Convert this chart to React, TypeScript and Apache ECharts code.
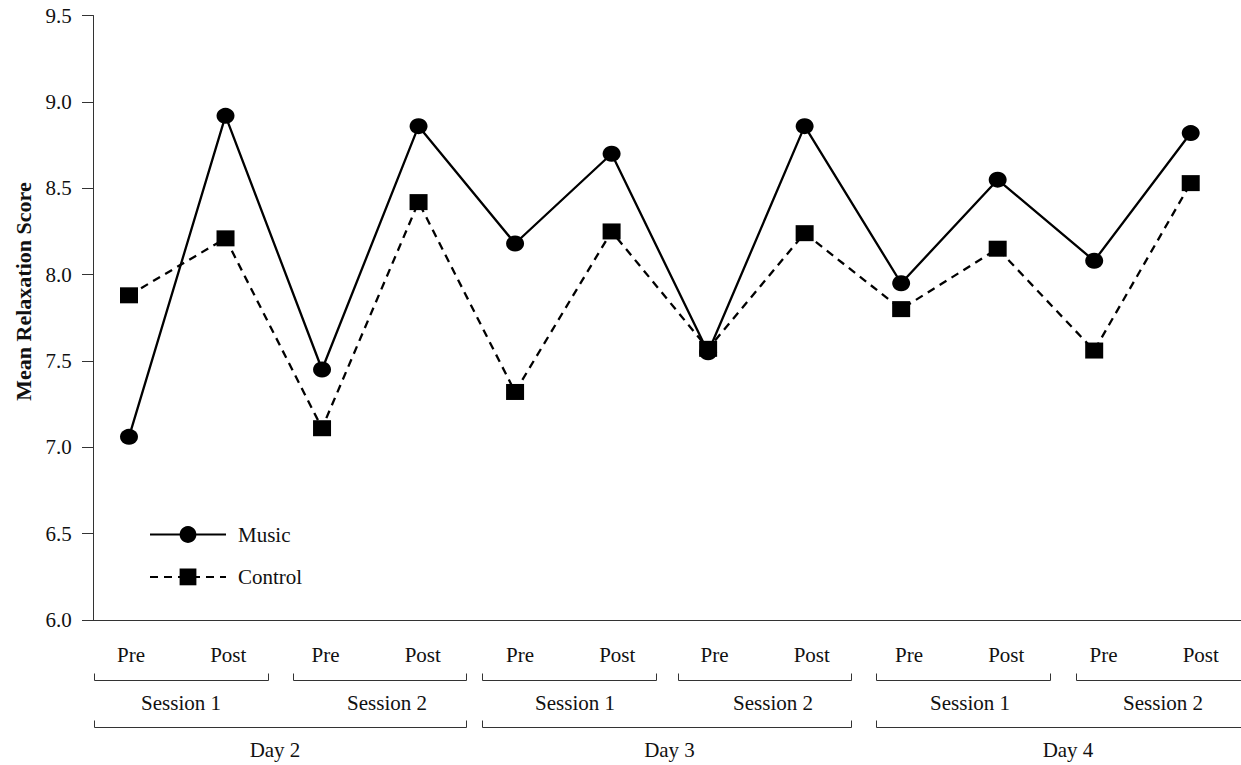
import React, { useEffect, useRef } from "react";
import * as echarts from "echarts";

// Measurement occasions along the x axis
const phases = ["Pre", "Post", "Pre", "Post", "Pre", "Post", "Pre", "Post", "Pre", "Post", "Pre", "Post"];

// Mean relaxation scores per occasion
const music = [7.06, 8.92, 7.45, 8.86, 8.18, 8.7, 7.55, 8.86, 7.95, 8.55, 8.08, 8.82];
const control = [7.88, 8.21, 7.11, 8.42, 7.32, 8.25, 7.57, 8.24, 7.8, 8.15, 7.56, 8.53];

// Grouping labels under the axis
const sessionLabels = ["Session 1", "Session 2", "Session 1", "Session 2", "Session 1", "Session 2"];
const dayLabels = ["Day 2", "Day 3", "Day 4"];

const FONT = "'Liberation Serif', 'DejaVu Serif', serif";
const INK = "#111";
const RULE = "#333";

// Bracket geometry (px) for the session and day groupings
const sessionSpans: [number, number][] = [
  [94.5, 268.5], [293.5, 466.5], [482.5, 656.5], [678.5, 851.5], [876.5, 1050.5], [1076.5, 1265],
];
const sessionCenters = [181, 387, 575, 773, 970, 1163];
const daySpans: [number, number][] = [[94.5, 466.5], [482.5, 851.5], [876.5, 1265]];
const dayCenters = [275, 669.5, 1068];

export default function App() {
  const ref = useRef<HTMLDivElement>(null);

  useEffect(() => {
    if (!ref.current) return;
    const chart = echarts.init(ref.current, null, { renderer: "svg" });

    const bracket = (x1: number, x2: number, yLine: number, yTop: number) => ({
      type: "polyline",
      silent: true,
      shape: { points: [[x1, yTop], [x1, yLine], [x2, yLine], [x2, yTop]] },
      style: { stroke: RULE, lineWidth: 1, fill: null },
    });
    const label = (text: string, x: number, y: number) => ({
      type: "text",
      silent: true,
      x,
      y,
      style: {
        text,
        fill: INK,
        fontFamily: FONT,
        fontSize: 21,
        textAlign: "center",
        textVerticalAlign: "middle",
      },
    });

    const graphics: any[] = [];
    sessionSpans.forEach(([a, b]) => graphics.push(bracket(a, b, 680.5, 673.5)));
    daySpans.forEach(([a, b]) => graphics.push(bracket(a, b, 727.5, 720.5)));
    sessionLabels.forEach((t, i) => graphics.push(label(t, sessionCenters[i], 703)));
    dayLabels.forEach((t, i) => graphics.push(label(t, dayCenters[i], 750)));
    graphics.push({
      type: "text",
      silent: true,
      x: 23,
      y: 291.5,
      rotation: Math.PI / 2,
      style: {
        text: "Mean Relaxation Score",
        fill: INK,
        fontFamily: FONT,
        fontWeight: "bold",
        fontSize: 22,
        textAlign: "center",
        textVerticalAlign: "middle",
      },
    });

    chart.setOption({
      animation: false,
      backgroundColor: "#fff",
      textStyle: { fontFamily: FONT, color: INK },
      grid: { left: 82.4, top: 15.7, width: 1167, height: 604.1, containLabel: false },
      legend: {
        orient: "vertical",
        left: 149,
        top: 524,
        padding: 0,
        itemWidth: 76,
        itemHeight: 21,
        itemGap: 21.4,
        data: ["Music", "Control"],
        textStyle: { fontFamily: FONT, fontSize: 21, color: INK, padding: [0, 0, 0, 7] },
      },
      xAxis: [
        {
          type: "category",
          data: phases,
          boundaryGap: true,
          axisLine: { onZero: false, lineStyle: { color: RULE, width: 1 } },
          axisTick: { alignWithLabel: true, length: 12, lineStyle: { color: RULE } },
          axisLabel: {
            color: INK,
            fontFamily: FONT,
            fontSize: 21,
            margin: 35,
            verticalAlign: "middle",
          },
        },
        {
          // positions the plotted points along the occasions
          type: "value",
          min: -0.4828,
          max: 11.608,
          show: false,
        },
      ],
      yAxis: {
        type: "value",
        min: 6,
        max: 9.5,
        interval: 0.5,
        offset: -11.3,
        splitLine: { show: false },
        axisLine: { show: true, onZero: false, lineStyle: { color: RULE, width: 1 } },
        axisTick: { show: true, length: 11.7, lineStyle: { color: RULE } },
        axisLabel: {
          color: INK,
          fontFamily: FONT,
          fontSize: 21,
          margin: 22,
          formatter: (v: number) => v.toFixed(1),
        },
      },
      series: [
        {
          name: "Control",
          type: "line",
          xAxisIndex: 1,
          data: control.map((v, i) => [i, v]),
          symbol: "rect",
          symbolSize: [18, 16],
          itemStyle: { color: "#000" },
          lineStyle: { color: "#000", width: 2.3, type: [8, 6] },
          z: 2,
        },
        {
          name: "Music",
          type: "line",
          xAxisIndex: 1,
          data: music.map((v, i) => [i, v]),
          symbol: "circle",
          symbolSize: [18, 16],
          itemStyle: { color: "#000" },
          lineStyle: { color: "#000", width: 2.3, type: "solid" },
          z: 3,
        },
      ],
      graphic: graphics,
    });

    return () => chart.dispose();
  }, []);

  // The plot runs past the right edge of the frame, so the chart canvas is
  // wider than the visible window and clipped by it.
  return (
    <div
      style={{
        position: "absolute",
        left: 0,
        top: 0,
        width: 1241,
        height: 765,
        overflow: "hidden",
        background: "#fff",
      }}
    >
      <div ref={ref} style={{ width: 1270, height: 765 }} />
    </div>
  );
}
